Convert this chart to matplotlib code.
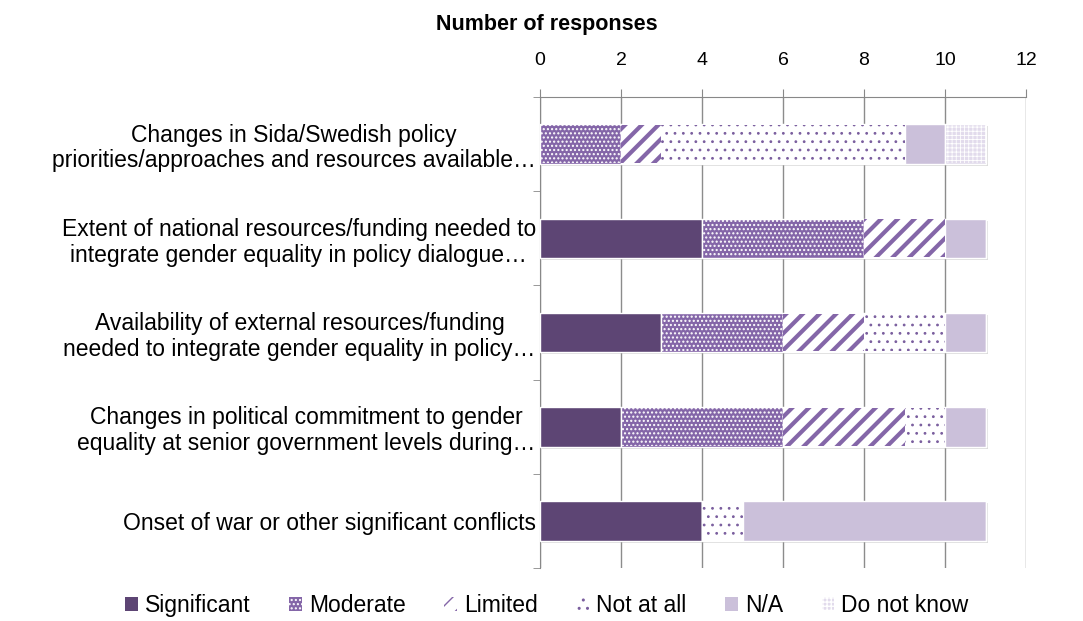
import matplotlib
matplotlib.use("Agg")
import matplotlib.pyplot as plt
import matplotlib.patheffects as pe
from matplotlib.patches import Patch
import numpy as np

plt.rcParams['font.family'] = ['Liberation Sans', 'DejaVu Sans']

categories = [
    "Changes in Sida/Swedish policy\npriorities/approaches and resources available\u2026",
    "Extent of national resources/funding needed to\nintegrate gender equality in policy dialogue\u2026",
    "Availability of external resources/funding\nneeded to integrate gender equality in policy\u2026",
    "Changes in political commitment to gender\nequality at senior government levels during\u2026",
    "Onset of war or other significant conflicts",
]
series = ["Significant", "Moderate", "Limited", "Not at all", "N/A", "Do not know"]
significant = [0, 4, 3, 2, 4]
moderate    = [2, 4, 3, 4, 0]
limited     = [1, 2, 2, 3, 0]
not_at_all  = [6, 0, 2, 1, 1]
na          = [1, 1, 1, 1, 6]
do_not_know = [1, 0, 0, 0, 0]
values = [significant, moderate, limited, not_at_all, na, do_not_know]
xticks = [0, 2, 4, 6, 8, 10, 12]

# style: (face, hatch, hatchcolor, hatch linewidth)
styles = [
    ("#5D4574", None, None, 1.0),
    ("#8466A8", "....", "#FFFFFF", 1.0),
    ("#FFFFFF", "//", "#8466A8", 3.0),
    ("#FFFFFF", "..", "#7A5E9E", 0.8),
    ("#CBC0DA", None, None, 1.0),
    ("#E2DBEC", "++++", "#FFFFFF", 0.6),
]

fig = plt.figure(figsize=(10.83, 6.21), dpi=100)
ax = fig.add_axes([0.4986, 0.0853, 0.9474 - 0.4986, 0.8438 - 0.0853])

y = np.arange(len(categories))
h = 0.42
left = np.zeros(len(categories))
shadow = [pe.SimplePatchShadow(offset=(1.5, -1.5), shadow_rgbFace="#9a9a9a", alpha=0.35), pe.Normal()]
for vals, (face, hatch, hcol, hlw) in zip(values, styles):
    vals = np.array(vals, dtype=float)
    base = ax.barh(y, vals, left=left, height=h, color=face, edgecolor="white", linewidth=1.0, zorder=3)
    for b, v in zip(base, vals):
        if v > 0:
            b.set_path_effects(shadow)
    if hatch:
        with plt.rc_context({'hatch.linewidth': hlw}):
            ov = ax.barh(y, vals, left=left, height=h - 0.02, color="none", edgecolor=hcol,
                         linewidth=0, hatch=hatch, zorder=4)
            for b in ov:
                if hasattr(b, "set_hatch_linewidth"):
                    b.set_hatch_linewidth(hlw)
    left += vals

ax.set_xlim(0, 12)
ax.set_ylim(len(categories) - 0.5, -0.5)
ax.set_xticks(xticks)
ax.xaxis.tick_top()
ax.tick_params(axis='x', which='major', length=6, color="#888888", labelsize=14, pad=14)
ax.grid(axis='x', color="#8c8c8c", linewidth=1.0, zorder=0)
ax.set_axisbelow(True)

ax.set_yticks(y)
ax.set_yticklabels(categories, fontsize=16.5, linespacing=1.15, multialignment='center')
ax.tick_params(axis='y', which='major', length=0, pad=3)
ax.set_yticks(np.arange(-0.5, len(categories)), minor=True)
ax.tick_params(axis='y', which='minor', length=5, color="#888888")

for s in ['right', 'bottom']:
    ax.spines[s].set_visible(False)
ax.spines['left'].set_color("#888888")
ax.spines['top'].set_color("#888888")

fig.text(0.505, 0.96, "Number of responses", ha='center', va='center', fontsize=15.5, fontweight='bold')

handles = [Patch(facecolor=f, edgecolor=(hc if hc else f), hatch=ht, linewidth=0) for f, ht, hc, _ in styles]
fig.legend(handles, series, loc='center', bbox_to_anchor=(0.505, 0.025), ncol=6, frameon=False,
           fontsize=16.5, handlelength=0.55, handleheight=0.55, handletextpad=0.3, columnspacing=1.7)

fig.savefig("out.png", dpi=100)
